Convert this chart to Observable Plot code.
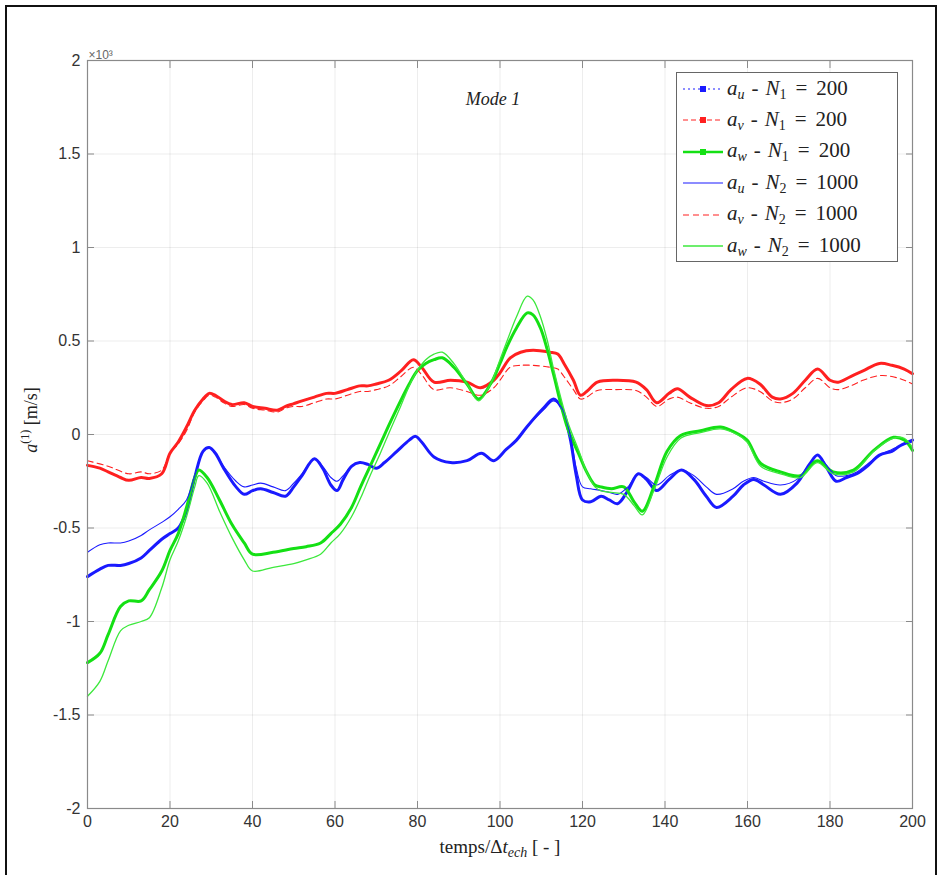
<!DOCTYPE html>
<html>
<head>
<meta charset="utf-8">
<script src="https://cdn.jsdelivr.net/npm/d3@7"></script>
<script src="https://cdn.jsdelivr.net/npm/@observablehq/plot@0.6"></script>
<style>
  html, body { margin: 0; padding: 0; background: #fff; }
  #wrap { position: relative; width: 945px; height: 875px; overflow: hidden; }
  #outer { position: absolute; left: 5px; top: 5px; width: 932px; height: 900px; border: 2px solid #111; border-bottom: none; box-sizing: border-box; }
  .math { font-family: "Liberation Serif", "DejaVu Serif", serif; color: #222; }
  .it { font-style: italic; }
  #legend { position: absolute; left: 676px; top: 72px; width: 222px; height: 190px; border: 1px solid #666; background: #fff; box-sizing: border-box; }
  .row { position: absolute; left: 0; height: 28px; display: flex; align-items: center; }
  .row svg { margin-left: 5px; }
  .row > span { font-size: 21px; margin-left: 3px; white-space: nowrap; }
  .op1 { margin: 0 7px; }
  .op2 { margin: 0 9px; }
  sub { font-size: 14px; vertical-align: -4px; }
  sup { font-size: 12px; vertical-align: 8px; }
  #ylab { position: absolute; left: 30px; top: 420px; transform: translate(-50%, -50%) rotate(-90deg); font-size: 18px; white-space: nowrap; }
  #xlab { position: absolute; left: 500px; top: 848px; transform: translate(-50%, -50%); font-size: 19px; white-space: nowrap; }
</style>
</head>
<body>
<div id="wrap">
  <div id="chart"></div>
  <div id="outer"></div>
  <div id="ylab" class="math"><span class="it">a</span><sup>(1)</sup> [m/s]</div>
  <div id="xlab" class="math">temps/Δ<span class="it">t<sub>ech</sub></span> [ - ]</div>
  <div id="legend"></div>
</div>
<script>
// ---- ticks ----
const xTicks = [0, 20, 40, 60, 80, 100, 120, 140, 160, 180, 200];
const yTicks = [-2, -1.5, -1, -0.5, 0, 0.5, 1, 1.5, 2];

// ---- a_u, N1 = 200 ----
const tUN1 = [0,3,5,8,10,13,15,18,20,22,24,26,28,29.5,31,33,36,38,40,42,45,48,50,52,55,57,59,60.5,62,64,66,68,70,72,75,78,79.5,81,84,88,92,95.5,98.5,101.5,104,106.5,110.5,113,115,117,118.5,120,122,124.5,126.5,128.5,131,133.5,135.5,138,141,144,147,150,152.5,156.5,159,161.5,164,168,172,175,177,179,181.5,184,186.5,189,192,195,197,200];
const vUN1 = [-0.76,-0.72,-0.70,-0.70,-0.69,-0.66,-0.62,-0.56,-0.53,-0.50,-0.41,-0.23,-0.09,-0.07,-0.10,-0.18,-0.28,-0.32,-0.30,-0.29,-0.31,-0.33,-0.28,-0.22,-0.13,-0.18,-0.27,-0.30,-0.24,-0.17,-0.15,-0.16,-0.18,-0.15,-0.09,-0.03,-0.01,-0.04,-0.12,-0.15,-0.14,-0.10,-0.14,-0.08,-0.03,0.04,0.14,0.19,0.14,-0.02,-0.22,-0.35,-0.36,-0.33,-0.35,-0.37,-0.30,-0.21,-0.24,-0.30,-0.24,-0.19,-0.24,-0.33,-0.39,-0.33,-0.27,-0.24,-0.27,-0.32,-0.26,-0.16,-0.11,-0.17,-0.25,-0.23,-0.21,-0.17,-0.11,-0.09,-0.06,-0.03];

// ---- a_u, N2 = 1000 ----
const tUN2 = [0,3,5,8,10,13,15,18,20,22,24,26,28,29.5,31,33,36,38,40,42,45,48,50,52,55,57,59,60.5,62,64,66,68,70,72,75,78,79.5,81,84,88,92,95.5,98.5,101.5,104,106.5,110.5,113,115,117,118.5,120,122,124.5,126.5,128.5,131,133.5,135.5,138,141,144,147,150,152.5,156.5,159,161.5,164,168,172,175,177,179,181.5,184,186.5,189,192,195,197,200];
const vUN2 = [-0.63,-0.59,-0.58,-0.58,-0.57,-0.54,-0.51,-0.47,-0.44,-0.40,-0.35,-0.22,-0.09,-0.07,-0.10,-0.17,-0.25,-0.28,-0.27,-0.26,-0.28,-0.30,-0.26,-0.21,-0.13,-0.17,-0.23,-0.25,-0.22,-0.17,-0.15,-0.16,-0.18,-0.15,-0.09,-0.03,-0.01,-0.04,-0.12,-0.15,-0.14,-0.10,-0.14,-0.08,-0.03,0.04,0.13,0.18,0.14,0.00,-0.18,-0.28,-0.29,-0.30,-0.31,-0.32,-0.28,-0.21,-0.23,-0.27,-0.22,-0.19,-0.22,-0.28,-0.32,-0.29,-0.25,-0.23,-0.25,-0.27,-0.24,-0.16,-0.11,-0.16,-0.22,-0.22,-0.20,-0.16,-0.11,-0.08,-0.06,-0.04];

// ---- a_v, N1 = 200 ----
const tVN1 = [0,3,5,8,10,13,15,18,20,22,24,26,28,29.5,31,33,35,38,40,43,46,48,50,52,55,58,60,63,66,68,70,73,76,79,81,84,88,92,95.3,98.5,100,102.5,105,108,112,114,115.5,117.8,119.5,121,123.6,128,133,135.5,138,141,143,146,150,153,156,159.9,163,166,168,171,174,177,180,182,185,188,192,195,198,200];
const vVN1 = [-0.165,-0.18,-0.20,-0.23,-0.245,-0.23,-0.235,-0.21,-0.10,-0.04,0.04,0.13,0.19,0.22,0.21,0.18,0.16,0.17,0.15,0.14,0.13,0.15,0.165,0.18,0.20,0.22,0.22,0.24,0.26,0.26,0.27,0.29,0.34,0.40,0.36,0.28,0.29,0.28,0.25,0.29,0.33,0.41,0.44,0.45,0.44,0.43,0.38,0.29,0.21,0.23,0.28,0.29,0.28,0.24,0.17,0.22,0.245,0.20,0.155,0.17,0.24,0.30,0.27,0.20,0.19,0.22,0.29,0.35,0.29,0.28,0.31,0.34,0.38,0.37,0.35,0.325];

// ---- a_v, N2 = 1000 ----
const tVN2 = [0,5,10,13,15,18,20,22,24,26,28,29.5,31,33,35,38,40,43,46,48,50,52,55,58,60,63,66,68,70,73,76,79,81,84,88,92,95.3,98.5,100,102.5,105,108,112,114,115.5,117.8,119.5,121,123.6,128,133,135.5,138,141,143,146,150,153,156,159.9,163,166,168,171,174,177,180,182,185,188,192,195,198,200];
const vVN2 = [-0.14,-0.17,-0.21,-0.20,-0.21,-0.19,-0.10,-0.05,0.02,0.12,0.18,0.21,0.20,0.17,0.15,0.16,0.14,0.13,0.12,0.14,0.15,0.15,0.17,0.19,0.19,0.21,0.23,0.23,0.24,0.26,0.31,0.36,0.32,0.24,0.25,0.23,0.21,0.25,0.29,0.36,0.37,0.37,0.36,0.35,0.31,0.24,0.19,0.20,0.235,0.24,0.235,0.20,0.15,0.19,0.20,0.17,0.14,0.15,0.20,0.25,0.23,0.18,0.17,0.19,0.25,0.30,0.25,0.24,0.26,0.29,0.315,0.31,0.29,0.27];

// ---- a_w, N1 = 200 ----
const tWN1 = [0,3,5,8,10,13,15,18,20,22,24,26,27,29,32,35,38,40,45,50,53,56.5,59,61.3,64,66.2,68.5,71,73.5,75.9,78,79.9,82,84,86,88.8,92,94.8,97.7,100,101.7,104,106.6,108,109.8,111.5,113,116.3,119,121,123,124.4,127,130,132.5,134.5,137.3,140.5,143.8,148.6,153.5,157.5,159.9,163.2,168,172.8,176.9,180.8,185.7,190.6,195.4,198,200];
const vWN1 = [-1.22,-1.17,-1.07,-0.92,-0.89,-0.89,-0.83,-0.73,-0.62,-0.53,-0.39,-0.23,-0.19,-0.23,-0.35,-0.48,-0.58,-0.64,-0.63,-0.61,-0.60,-0.58,-0.53,-0.48,-0.39,-0.28,-0.17,-0.05,0.07,0.18,0.27,0.34,0.38,0.40,0.41,0.36,0.27,0.19,0.27,0.38,0.47,0.57,0.65,0.64,0.57,0.45,0.32,0.04,-0.10,-0.20,-0.27,-0.28,-0.29,-0.28,-0.36,-0.41,-0.28,-0.09,-0.005,0.02,0.04,0.005,-0.03,-0.155,-0.20,-0.22,-0.14,-0.20,-0.19,-0.085,-0.015,-0.03,-0.085];

// ---- a_w, N2 = 1000 ----
const tWN2 = [0,3,5,8,10,13,15,18,20,22,24,26,27,29,32,35,38,40,45,50,53,56.5,59,61.3,64,66.2,68.5,71,73.5,75.9,78,79.9,82,84,86,88.8,92,94.8,97.7,100,101.7,104,106.6,108,109.8,111.5,113,116.3,119,121,123,124.4,127,130,132.5,134.5,137.3,140.5,143.8,148.6,153.5,157.5,159.9,163.2,168,172.8,176.9,180.8,185.7,190.6,195.4,198,200];
const vWN2 = [-1.40,-1.32,-1.21,-1.05,-1.02,-1.00,-0.98,-0.82,-0.67,-0.57,-0.44,-0.28,-0.22,-0.26,-0.41,-0.55,-0.67,-0.73,-0.71,-0.69,-0.67,-0.64,-0.58,-0.53,-0.44,-0.34,-0.22,-0.10,0.03,0.15,0.26,0.34,0.40,0.43,0.44,0.38,0.27,0.18,0.27,0.40,0.50,0.63,0.74,0.72,0.63,0.50,0.35,0.075,-0.08,-0.20,-0.28,-0.30,-0.31,-0.32,-0.38,-0.43,-0.30,-0.12,-0.02,0.01,0.03,0.0,-0.04,-0.17,-0.21,-0.23,-0.15,-0.21,-0.20,-0.09,-0.02,-0.02,-0.07];

const BLUE = "#1a1aff", RED = "#ff2020", GREEN = "#14e014", GREEN2 = "#3ce83c";

const series = [
  {t: tUN1, v: vUN1, stroke: BLUE, w: 3, dash: null},
  {t: tVN1, v: vVN1, stroke: RED, w: 3, dash: null},
  {t: tWN1, v: vWN1, stroke: GREEN, w: 3, dash: null},
  {t: tUN2, v: vUN2, stroke: BLUE, w: 1.1, dash: null},
  {t: tVN2, v: vVN2, stroke: RED, w: 1.1, dash: "6,4"},
  {t: tWN2, v: vWN2, stroke: GREEN2, w: 1.3, dash: null}
];

const lineMarks = series.map(s =>
  Plot.line(s.t.map((t, i) => ({t, v: s.v[i]})), {
    x: "t", y: "v", stroke: s.stroke, strokeWidth: s.w,
    strokeDasharray: s.dash, curve: "catmull-rom"
  })
);

const fmt = d => String(d);

const chart = Plot.plot({
  width: 945, height: 875,
  marginLeft: 87, marginRight: 33, marginTop: 60, marginBottom: 67,
  x: {domain: [0, 200]},
  y: {domain: [-2, 2]},
  style: {fontFamily: "'Liberation Sans', Arial, sans-serif", fontSize: "16px", color: "#333", background: "transparent"},
  marks: [
    Plot.gridX(xTicks, {stroke: "#000", strokeOpacity: 0.07}),
    Plot.gridY(yTicks, {stroke: "#000", strokeOpacity: 0.07}),
    ...lineMarks,
    Plot.frame({stroke: "#8a8a8a", strokeWidth: 1.2}),
    Plot.axisX(xTicks, {anchor: "bottom", tickSize: 0, tickPadding: 7, tickFormat: fmt, label: null, fill: "#333"}),
    Plot.axisY(yTicks, {anchor: "left", tickSize: 0, tickPadding: 7, tickFormat: fmt, label: null, fill: "#333"}),
    Plot.axisX(xTicks, {anchor: "bottom", tickSize: -7, tickFormat: () => "", label: null, stroke: "#8a8a8a"}),
    Plot.axisX(xTicks, {anchor: "top", tickSize: -7, tickFormat: () => "", label: null, stroke: "#8a8a8a"}),
    Plot.axisY(yTicks, {anchor: "left", tickSize: -7, tickFormat: () => "", label: null, stroke: "#8a8a8a"}),
    Plot.axisY(yTicks, {anchor: "right", tickSize: -7, tickFormat: () => "", label: null, stroke: "#8a8a8a"}),
    Plot.text(["Mode 1"], {frameAnchor: "top", dx: -7, dy: 32, fontFamily: "'Liberation Serif', serif", fontStyle: "italic", fontSize: 18, fill: "#222"}),
    Plot.text(["×10³"], {frameAnchor: "top-left", textAnchor: "start", dx: 1, dy: -10, fontSize: 12, fill: "#666"})
  ]
});
document.getElementById("chart").appendChild(chart);

// ---- legend ----
const legendItems = [
  {sym: "u", n: "1", val: "200", stroke: BLUE, w: 1, dash: "2,3", marker: true},
  {sym: "v", n: "1", val: "200", stroke: RED, w: 1, dash: "5,3", marker: true},
  {sym: "w", n: "1", val: "200", stroke: GREEN, w: 2.5, dash: null, marker: true},
  {sym: "u", n: "2", val: "1000", stroke: BLUE, w: 1.2, dash: null, marker: false},
  {sym: "v", n: "2", val: "1000", stroke: RED, w: 1.1, dash: "6,4", marker: false},
  {sym: "w", n: "2", val: "1000", stroke: GREEN2, w: 1.3, dash: null, marker: false}
];
const legend = document.getElementById("legend");
legendItems.forEach((it, i) => {
  const row = document.createElement("div");
  row.className = "row";
  row.style.top = (2 + i * 31.4) + "px";
  const dash = it.dash ? `stroke-dasharray="${it.dash}"` : "";
  const mk = it.marker ? `<rect x="18" y="7" width="6" height="6" fill="${it.stroke}"/>` : "";
  row.innerHTML = `<svg width="42" height="20"><line x1="1" y1="10" x2="41" y2="10" stroke="${it.stroke}" stroke-width="${it.w}" ${dash}/>${mk}</svg>` +
    `<span class="math"><span class="it">a<sub>${it.sym}</sub></span><span class="op1">-</span><span class="it">N</span><sub>${it.n}</sub><span class="op2">=</span>${it.val}</span>`;
  legend.appendChild(row);
});
</script>
</body>
</html>
